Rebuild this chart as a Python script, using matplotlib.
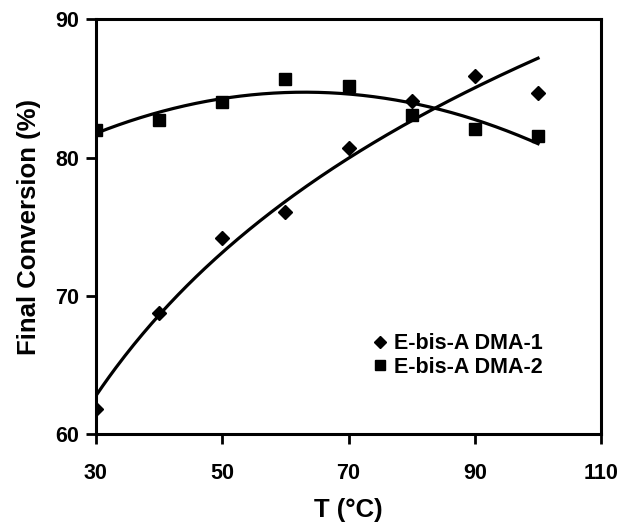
import numpy as np
import matplotlib
matplotlib.use("Agg")
import matplotlib.pyplot as plt

plt.rcParams['font.family'] = ['Liberation Sans', 'DejaVu Sans']
plt.rcParams['font.weight'] = 'bold'

temperature = [30, 40, 50, 60, 70, 80, 90, 100]
dma1 = [61.8, 68.8, 74.2, 76.1, 80.7, 84.1, 85.9, 84.7]
dma2 = [82.0, 82.7, 84.0, 85.7, 85.2, 83.1, 82.1, 81.6]
series_names = ["E-bis-A DMA-1", "E-bis-A DMA-2"]

fig = plt.figure(figsize=(6.23, 5.27), dpi=100)
ax = fig.add_axes([0.154, 0.176, 0.811, 0.787])

xs = np.linspace(min(temperature), max(temperature), 200)
t = np.asarray(temperature, dtype=float)

# logarithmic trend line for DMA-1
a1, b1 = np.polyfit(np.log(t), dma1, 1)
ax.plot(xs, a1 * np.log(xs) + b1, color='black', lw=2.3, zorder=2)

# second-order polynomial trend line for DMA-2
c2 = np.polyfit(t, dma2, 2)
ax.plot(xs, np.polyval(c2, xs), color='black', lw=2.3, zorder=2)

ax.plot(temperature, dma1, linestyle='none', marker='D', ms=7.2, color='black',
        label=series_names[0], zorder=3)
ax.plot(temperature, dma2, linestyle='none', marker='s', ms=8.8, color='black',
        label=series_names[1], zorder=3)

ax.set_xlim(30, 110)
ax.set_ylim(60, 90)
ax.set_xticks([30, 50, 70, 90, 110])
ax.set_yticks([60, 70, 80, 90])
ax.tick_params(direction='out', length=7, width=2, labelsize=15.5)
ax.tick_params(axis='x', pad=14)
ax.tick_params(axis='y', pad=5)
for s in ax.spines.values():
    s.set_linewidth(2.2)

ax.set_xlabel("T (°C)", fontsize=18.5, fontweight='bold', labelpad=10)
ax.set_ylabel("Final Conversion (%)", fontsize=18.5, fontweight='bold', labelpad=10)

leg = ax.legend(loc='center left', bbox_to_anchor=(0.549, 0.19), frameon=False,
                handlelength=0.6, handletextpad=0.35, fontsize=15.5,
                labelspacing=0.12, borderpad=0, borderaxespad=0,
                markerscale=0.8)
for txt in leg.get_texts():
    txt.set_fontweight('bold')

fig.savefig("out.png", dpi=100)
